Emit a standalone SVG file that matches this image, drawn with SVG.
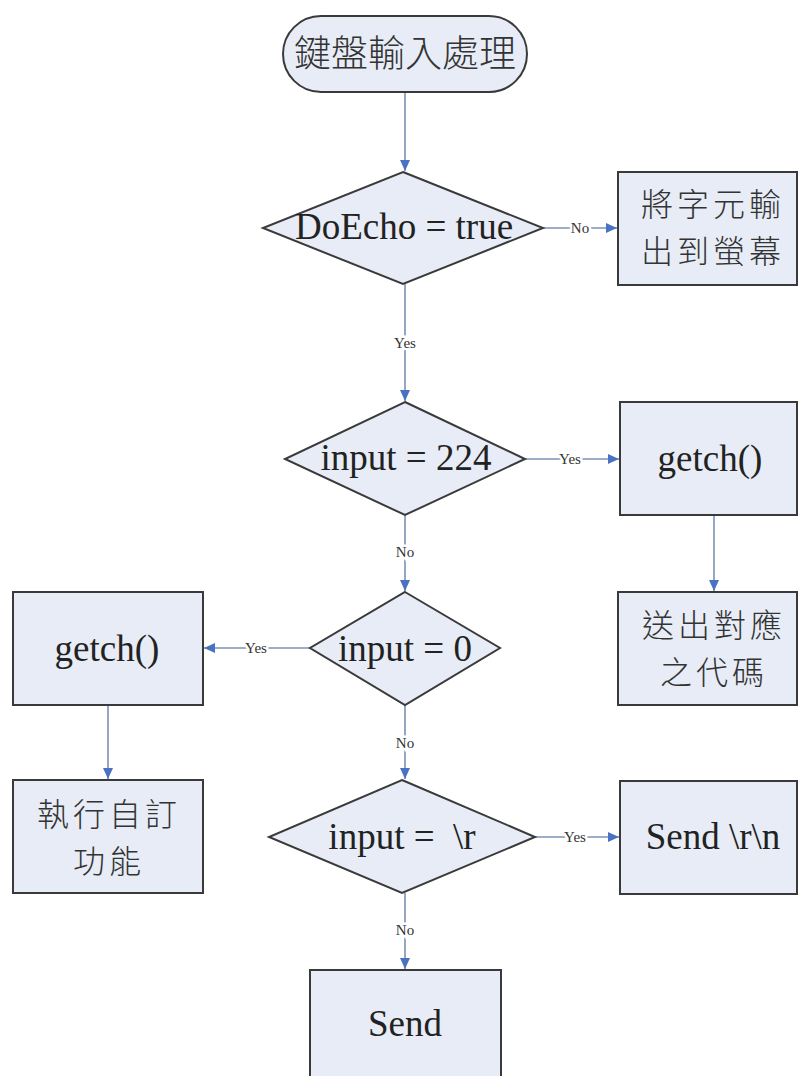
<svg xmlns="http://www.w3.org/2000/svg" width="801" height="1076" viewBox="0 0 801 1076">
<style>
.shape{fill:#e7ecf6;stroke:#3a3a3a;stroke-width:2}
.en{font-family:"Liberation Serif","Times New Roman",serif;font-size:37px;fill:#222;text-anchor:middle}
.cjk{font-family:"Noto Sans CJK TC","Noto Sans CJK SC",sans-serif;font-size:32px;letter-spacing:4px;font-weight:300;fill:#333;text-anchor:middle}
.con{fill:none;stroke:#7d90b4;stroke-width:1.6;marker-end:url(#arr)}
.lbl{font-family:"Liberation Serif","Times New Roman",serif;font-size:15px;fill:#333;text-anchor:middle;stroke:#fff;stroke-width:5;paint-order:stroke}
</style>
<defs>
<marker id="arr" markerUnits="userSpaceOnUse" markerWidth="12" markerHeight="12" viewBox="0 0 12 12" refX="11" refY="6" orient="auto">
<path d="M0,1 L11,6 L0,11 Z" fill="#4a72c2"/>
</marker>
</defs>
<rect width="801" height="1076" fill="#fff"/>
<g id="connectors">
<path class="con" d="M405,92 V171"/>
<path class="con" d="M543,228 H617"/>
<path class="con" d="M405,284 V401"/>
<path class="con" d="M525,459 H619"/>
<path class="con" d="M714,515 V591"/>
<path class="con" d="M405,515 V591"/>
<path class="con" d="M310,648 H204"/>
<path class="con" d="M108,705 V779"/>
<path class="con" d="M405,705 V779"/>
<path class="con" d="M535,837 H619"/>
<path class="con" d="M405,893 V969"/>
<text class="lbl" x="580" y="233">No</text>
<text class="lbl" x="405" y="348">Yes</text>
<text class="lbl" x="570" y="464">Yes</text>
<text class="lbl" x="405" y="557">No</text>
<text class="lbl" x="256" y="653">Yes</text>
<text class="lbl" x="405" y="748">No</text>
<text class="lbl" x="575" y="842">Yes</text>
<text class="lbl" x="405" y="935">No</text>
</g>
<g id="start">
<rect class="shape" x="283" y="16" width="244" height="76" rx="38"/>
<text class="cjk" x="405" y="67" style="font-size:37px;letter-spacing:0">鍵盤輸入處理</text>
</g>
<g id="d-doecho">
<polygon class="shape" points="403,172 543,228 403,284 263,228"/>
<text class="en" x="404" y="239">DoEcho = true</text>
</g>
<g id="echo-out">
<rect class="shape" x="618" y="172" width="179" height="113"/>
<text class="cjk" x="713" y="216">將字元輸<tspan x="713" dy="47">出到螢幕</tspan></text>
</g>
<g id="d-224">
<polygon class="shape" points="405,402 525,459 405,515 285,459"/>
<text class="en" x="406" y="470">input = 224</text>
</g>
<g id="getch-right">
<rect class="shape" x="620" y="402" width="177" height="113"/>
<text class="en" x="710" y="471">getch()</text>
</g>
<g id="send-code">
<rect class="shape" x="618" y="592" width="179" height="113"/>
<text class="cjk" x="714" y="637">送出對應<tspan x="714" dy="47">之代碼</tspan></text>
</g>
<g id="d-0">
<polygon class="shape" points="405,592 500,648 405,705 310,648"/>
<text class="en" x="405" y="661">input = 0</text>
</g>
<g id="getch-left">
<rect class="shape" x="13" y="592" width="190" height="113"/>
<text class="en" x="107" y="661">getch()</text>
</g>
<g id="custom">
<rect class="shape" x="13" y="780" width="190" height="113"/>
<text class="cjk" x="109" y="826">執行自訂<tspan x="109" dy="47">功能</tspan></text>
</g>
<g id="d-r">
<polygon class="shape" points="402,780 535,837 402,893 269,837"/>
<text class="en" x="402" y="849" xml:space="preserve">input =  \r</text>
</g>
<g id="send-rn">
<rect class="shape" x="620" y="781" width="177" height="113"/>
<text class="en" x="713" y="849">Send \r\n</text>
</g>
<g id="send">
<rect class="shape" x="310" y="970" width="191" height="120"/>
<text class="en" x="405" y="1036">Send</text>
</g>
</svg>
